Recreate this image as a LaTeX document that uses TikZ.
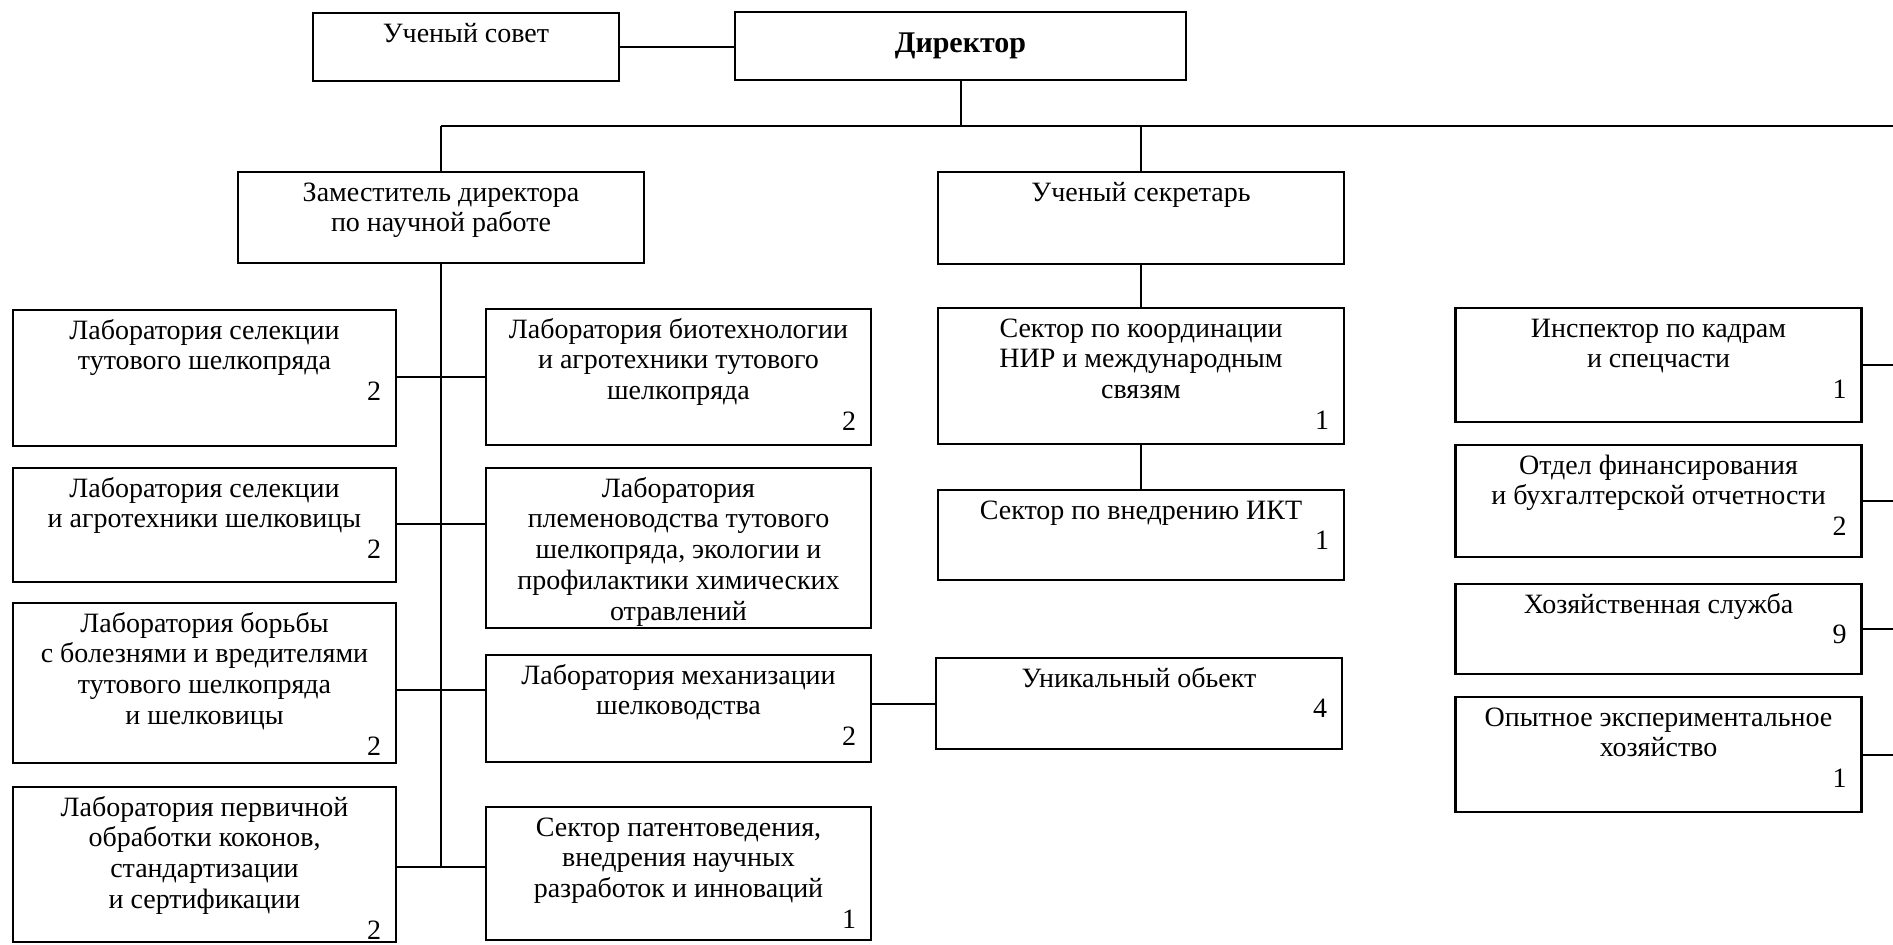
\documentclass[tikz,border=0pt]{standalone}
\usepackage{fontspec}
\setmainfont{Liberation Serif}
\newcommand\staff[1]{\makebox[\hsize][r]{#1}}

\tikzset{
  unit/.style 2 args={draw, line width=1.1pt, inner xsep=7.5pt, inner ysep=0pt,
    font=\fontsize{14}{15.4}\selectfont,
    execute at begin node={\begin{minipage}[t][#2][t]{#1}\centering\rule{0pt}{14.5pt}},
    execute at end node={\end{minipage}}},
  lab/.style={unit={176.5pt}{#1}},
  mid/.style={unit={177.5pt}{#1}},
  wide/.style={unit={188pt}{#1}},
  head/.style={draw, line width=1.1pt, minimum width=225.5pt, minimum height=34pt,
    font=\fontsize{15}{18}\selectfont\bfseries},
  link/.style={line width=1pt},
}

\begin{document}
\begin{tikzpicture}[x=0.5pt,y=-0.5pt]
  \useasboundingbox (0,0) rectangle (1893,944);

  \node[unit={138pt}{34pt}] (sovet) at (466,47) {Ученый совет};
  \node[head] (dir) at (960.5,46) {Директор};

  \node[wide=45.5pt] (zam)  at (441,217.5) {Заместитель директора\\по научной работе};
  \node[wide=46pt]   (secr) at (1141,218)  {Ученый секретарь};
  \node[wide=68pt]   (nir)  at (1141,376)  {Сектор по координации\\НИР и международным\\связям\\\staff{1}};
  \node[wide=45pt]   (ikt)  at (1141,535)  {Сектор по внедрению ИКТ\\\staff{1}};
  \node[wide=45.5pt] (uniq) at (1139,703.5) {Уникальный обьект\\\staff{4}};

  \node[lab=68pt]   (l1) at (204.5,378)   {Лаборатория селекции\\тутового шелкопряда\\\staff{2}};
  \node[lab=57pt]   (l2) at (204.5,525)   {Лаборатория селекции\\и агротехники шелковицы\\\staff{2}};
  \node[lab=80pt]   (l3) at (204.5,683)   {Лаборатория борьбы\\с болезнями и вредителями\\тутового шелкопряда\\и шелковицы\\\staff{2}};
  \node[lab=77.5pt] (l4) at (204.5,864.5) {Лаборатория первичной\\обработки коконов,\\стандартизации\\и сертификации\\\staff{2}};

  \node[mid=68pt]   (m1) at (678.5,377)   {Лаборатория биотехнологии\\и агротехники тутового\\шелкопряда\\\staff{2}};
  \node[mid=80pt]   (m2) at (678.5,548)   {Лаборатория\\племеноводства тутового\\шелкопряда, экологии и\\профилактики химических\\отравлений};
  \node[mid=53.5pt] (m3) at (678.5,708.5) {Лаборатория механизации\\шелководства\\\staff{2}};
  \node[mid=66.5pt] (m4) at (678.5,873.5) {Сектор патентоведения,\\внедрения научных\\разработок и инноваций\\\staff{1}};

  \node[wide=57pt]   (r1) at (1658.5,365)   {Инспектор по кадрам\\и спецчасти\\\staff{1}};
  \node[wide=56pt]   (r2) at (1658.5,501)   {Отдел финансирования\\и бухгалтерской отчетности\\\staff{2}};
  \node[wide=45pt]   (r3) at (1658.5,629)   {Хозяйственная служба\\\staff{9}};
  \node[wide=57.5pt] (r4) at (1658.5,754.5) {Опытное экспериментальное\\хозяйство\\\staff{1}};

  \coordinate (busL) at (441,126);
  \coordinate (busR) at (1893,126);
  \coordinate (spine) at (441,867);
  \coordinate (edge) at (1893,0);

  \draw[link] (sovet.east) -- (sovet.east -| dir.west);
  \draw[link] (dir.south) -- (dir.south |- busL);
  \draw[link] (busL) -- (busR);
  \draw[link] (busL) -- (zam.north);
  \draw[link] (secr.north |- busL) -- (secr.north);
  \draw[link] (secr.south) -- (nir.north);
  \draw[link] (nir.south) -- (ikt.north);
  \draw[link] (zam.south) -- (spine);
  \foreach \a/\b/\y in {l1/m1/377,l2/m2/524,l3/m3/690,l4/m4/867}
    \draw[link] (\a.east |- 0,\y) -- (\b.west |- 0,\y);
  \draw[link] (m3.east |- uniq.west) -- (uniq.west);
  \foreach \r in {r1,r2,r3,r4}
    \draw[link] (\r.east) -- (\r.east -| edge);

\end{tikzpicture}
\end{document}
